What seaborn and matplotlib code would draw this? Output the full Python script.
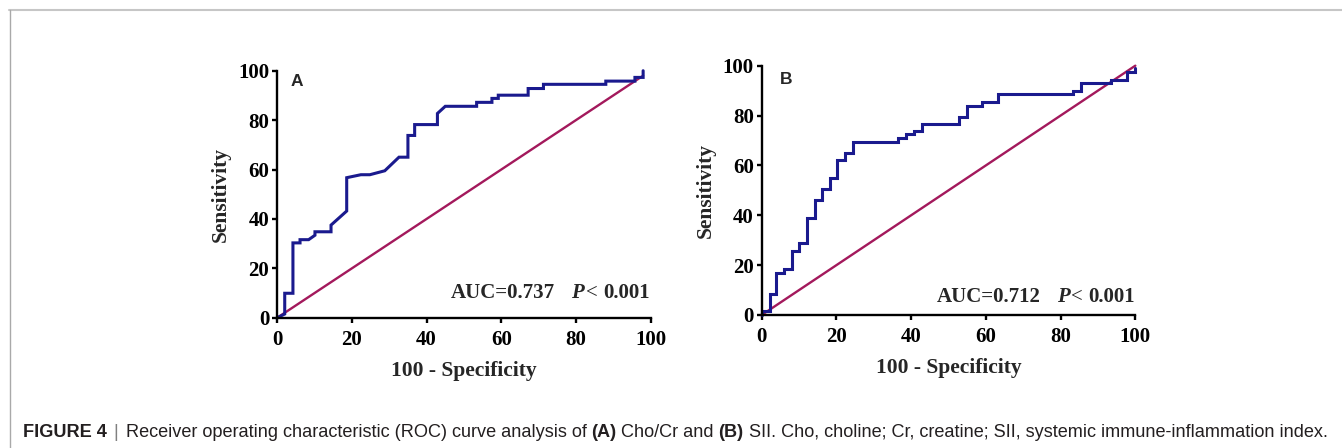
import numpy as np
import pandas as pd
import matplotlib
matplotlib.use("Agg")
import matplotlib.pyplot as plt
import seaborn as sns
from matplotlib.lines import Line2D

# ---------------- data ----------------
ticks = [0, 20, 40, 60, 80, 100]

# Panel A: Cho/Cr ROC curve vertices (100 - specificity, sensitivity)
a_fpr = [0, 2.0, 2.0, 4.2, 4.2, 6.1, 6.1, 8.4, 10.1, 10.1, 14.4, 14.4, 18.6, 18.6,
         22.4, 24.8, 28.8, 32.6, 35.0, 35.0, 36.8, 36.8, 42.9, 42.9, 45.0, 53.4, 53.4,
         57.5, 57.5, 59.2, 59.2, 67.2, 67.2, 71.3, 71.3, 88.0, 88.0, 95.8, 95.8, 98.0, 98.0]
a_tpr = [0, 1.5, 9.9, 9.9, 30.3, 30.3, 31.6, 31.6, 33.4, 34.8, 34.8, 37.5, 43.2, 56.7,
         57.9, 57.9, 59.5, 65.0, 65.0, 73.8, 73.8, 78.2, 78.2, 82.7, 85.6, 85.6, 87.2,
         87.2, 88.8, 88.8, 90.1, 90.1, 92.8, 92.8, 94.5, 94.5, 95.8, 95.8, 97.3, 97.3, 100]
a_ref = [0, 98]

# Panel B: SII ROC curve vertices
b_fpr = [0, 0, 2.1, 2.1, 3.9, 3.9, 5.9, 5.9, 8.0, 8.0, 10.1, 10.1, 12.2, 12.2, 14.2, 14.2,
         16.1, 16.1, 18.2, 18.2, 20.2, 20.2, 22.4, 22.4, 24.5, 24.5, 36.6, 36.6, 38.5, 38.5,
         40.7, 40.7, 42.9, 42.9, 52.9, 52.9, 54.9, 54.9, 58.9, 58.9, 63.2, 63.2, 83.4, 83.4,
         85.4, 85.4, 93.4, 93.4, 97.7, 97.7, 100, 100]
b_tpr = [0, 1.4, 1.4, 8.3, 8.3, 16.9, 16.9, 18.5, 18.5, 25.8, 25.8, 28.8, 28.8, 38.8, 38.8,
         46.2, 46.2, 50.5, 50.5, 54.9, 54.9, 62.2, 62.2, 65.1, 65.1, 69.4, 69.4, 70.9, 70.9,
         72.5, 72.5, 73.9, 73.9, 76.8, 76.8, 79.5, 79.5, 83.8, 83.8, 85.6, 85.6, 88.5, 88.5,
         90.0, 90.0, 92.9, 92.9, 94.1, 94.1, 97.6, 97.6, 99.0]
b_ref = [0, 100]

panel_labels = ["A", "B"]
auc_values = ["0.737", "0.712"]
p_value = "0.001"
x_title = "100 - Specificity"
y_title = "Sensitivity"

caption_pieces = [
    ("FIGURE 4", "bold", 0),
    ("|", "light", 5),
    ("Receiver operating characteristic (ROC) curve analysis of", "normal", 5),
    ("(A)", "bold", 3.5),
    ("Cho/Cr and", "normal", 3.5),
    ("(B)", "bold", 3.5),
    ("SII. Cho, choline; Cr, creatine; SII, systemic immune-inflammation index.", "normal", 3.5),
]

BLUE = "#1a1a8e"
RED = "#a3195c"

sns.set_theme(style="ticks")
plt.rcParams["font.family"] = ["Liberation Serif", "DejaVu Serif"]
plt.rcParams["font.weight"] = "bold"
plt.rcParams["axes.labelweight"] = "bold"

fig = plt.figure(figsize=(13.42, 4.48), dpi=100)
fig.patch.set_facecolor("white")

axA = fig.add_axes([0.2066, 0.2908, 0.2782, 0.5513])
axB = fig.add_axes([0.5676, 0.2969, 0.2784, 0.5565])

panels = [
    (axA, a_fpr, a_tpr, a_ref, (5.2, 95.5), (99.7, 7.9)),
    (axB, b_fpr, b_tpr, b_ref, (6.4, 94.3), (100.0, 5.3)),
]

TICK_FS = 15
LAB_FS = 15.5
AUC_FS = 15

for i, (ax, fx, ty, ref, lab_xy, auc_xy) in enumerate(panels):
    ax.set_facecolor("white")
    df_ref = pd.DataFrame({"x": ref, "y": ref})
    sns.lineplot(data=df_ref, x="x", y="y", sort=False, estimator=None,
                 color=RED, lw=1.7, ax=ax)
    df = pd.DataFrame({"x": fx, "y": ty})
    sns.lineplot(data=df, x="x", y="y", sort=False, estimator=None,
                 color=BLUE, lw=2.2, ax=ax)
    for ln in ax.lines:
        ln.set_clip_on(False)
        ln.set_solid_joinstyle("miter")
    ax.set_xlim(0, 100)
    ax.set_ylim(0, 100)
    ax.set_xticks(ticks)
    ax.set_yticks(ticks)
    ax.set_xticklabels([str(t) for t in ticks], fontsize=TICK_FS, fontweight="bold")
    ax.set_yticklabels([str(t) for t in ticks], fontsize=TICK_FS, fontweight="bold")
    sns.despine(ax=ax)
    for s in ["left", "bottom"]:
        ax.spines[s].set_linewidth(1.7)
        ax.spines[s].set_color("black")
    ax.tick_params(axis="both", direction="out", length=3.8, width=1.7, colors="black")
    ax.tick_params(axis="x", pad=5)
    ax.tick_params(axis="y", pad=2)
    ax.set_xlabel(x_title, fontsize=LAB_FS, fontweight="bold", labelpad=8)
    ax.set_ylabel(y_title, fontsize=LAB_FS, fontweight="bold", labelpad=5)
    ax.grid(False)

    ax.text(lab_xy[0], lab_xy[1], panel_labels[i], ha="center", va="center",
            fontsize=12.5, fontweight="bold", family="Liberation Sans")

    # AUC annotation built right-to-left
    t3 = ax.text(auc_xy[0], auc_xy[1], p_value, ha="right", va="baseline",
                 fontsize=AUC_FS, fontweight="bold", family="Liberation Serif")
    t2 = ax.annotate("<", xy=(0, 0), xycoords=t3, xytext=(-4, 0),
                     textcoords="offset points", ha="right", va="bottom",
                     fontsize=AUC_FS, fontweight="normal", family="Liberation Serif")
    t1 = ax.annotate("P", xy=(0, 0), xycoords=t2, xytext=(-1, 0),
                     textcoords="offset points", ha="right", va="bottom",
                     fontsize=AUC_FS, fontweight="bold", fontstyle="italic",
                     family="Liberation Serif")
    ax.annotate("AUC=" + auc_values[i], xy=(0, 0), xycoords=t1, xytext=(-12, 0),
                textcoords="offset points", ha="right", va="bottom",
                fontsize=AUC_FS, fontweight="bold", family="Liberation Serif")

# page frame lines
fig.add_artist(Line2D([9 / 1342, 1.0], [1 - 10.5 / 448, 1 - 10.5 / 448],
                      transform=fig.transFigure, color="#c6c6c6", lw=1.5))
fig.add_artist(Line2D([9.5 / 1342, 9.5 / 1342], [0, 1 - 10.5 / 448],
                      transform=fig.transFigure, color="#a9a9a9", lw=1.0))

# caption, built left-to-right on an invisible full-figure axes
cap_ax = fig.add_axes([0, 0, 1, 1], facecolor="none")
cap_ax.set_axis_off()
cap_fs = 13.1
last = None
for s, w, gap in caption_pieces:
    color = "#808080" if w == "light" else "#231f20"
    weight = "normal" if w == "light" else w
    if last is None:
        last = cap_ax.text(23 / 1342, 1 - 437.3 / 448, s, ha="left", va="baseline",
                           transform=cap_ax.transAxes, fontsize=cap_fs,
                           family="Liberation Sans", fontweight=weight, color=color)
    else:
        last = cap_ax.annotate(s, xy=(1, 0), xycoords=last, xytext=(gap, 0),
                               textcoords="offset points", ha="left", va="bottom",
                               fontsize=cap_fs, family="Liberation Sans",
                               fontweight=weight, color=color)

fig.savefig("out.png", dpi=100, facecolor="white")
